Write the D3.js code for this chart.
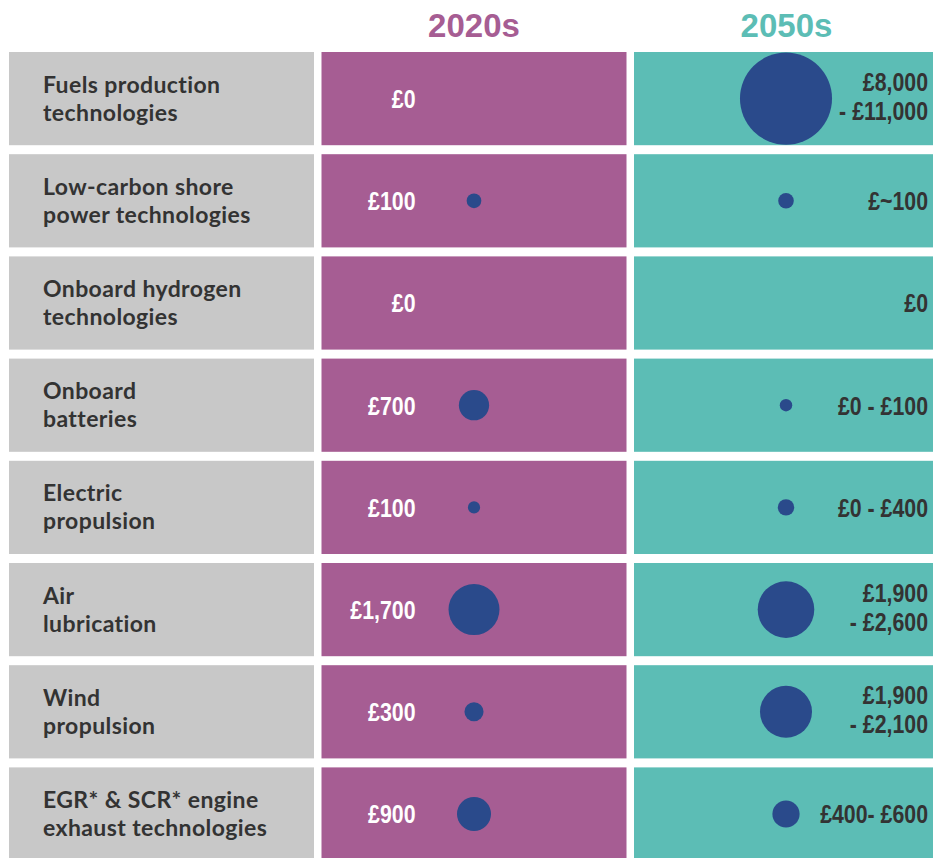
<!DOCTYPE html>
<html>
<head>
<meta charset="utf-8">
<script src="https://cdn.jsdelivr.net/npm/d3@7.9.0/dist/d3.min.js"></script>
<style>
  html, body { margin: 0; padding: 0; background: #fff; }
  svg { display: block; }
</style>
</head>
<body>
<script>
// ** Data **
const technologies = [
    "Fuels production\ntechnologies",
    "Low-carbon shore\npower technologies",
    "Onboard hydrogen\ntechnologies",
    "Onboard\nbatteries",
    "Electric\npropulsion",
    "Air\nlubrication",
    "Wind\npropulsion",
    "EGR* & SCR* engine\nexhaust technologies"
];
const periods = ["2020s", "2050s"];
const cost2020s = ["£0", "£100", "£0", "£700", "£100", "£1,700", "£300", "£900"];
const cost2050s = ["£8,000\n- £11,000", "£~100", "£0", "£0 - £100", "£0 - £400", "£1,900\n- £2,600", "£1,900\n- £2,100", "£400- £600"];
// bubble sizes (£) as read from the circles
const bubble2020s = [0, 160, 0, 680, 110, 1930, 270, 860];
const bubble2050s = [6300, 180, 0, 115, 200, 2380, 2010, 550];

const width = 933, height = 858;
const colors = { label: "#c8c8c8", "2020s": "#a65d93", "2050s": "#5cbdb5" };
const bubbleColor = "#2a4a8b";
const valueFont = "'Liberation Sans', Arial, sans-serif";

const svg = d3.select("body").append("svg")
    .attr("width", width)
    .attr("height", height);

// ** Scales **
const x = d3.scaleBand()
    .domain(["label", ...periods])
    .range([9, 939])
    .paddingInner(0.024);

const y = d3.scaleBand()
    .domain(technologies)
    .range([52, 52 + 8 * 102.2 - 9])
    .paddingInner(0.088);

const r = d3.scaleSqrt().domain([0, 10000]).range([0, 58]);

// ** Column titles **
svg.selectAll("text.title")
    .data(periods)
    .enter()
    .append("text")
    .attr("class", "title")
    .attr("x", d => x(d) + x.bandwidth() / 2)
    .attr("y", 37)
    .attr("text-anchor", "middle")
    .style("font-family", "'Liberation Sans', Arial, sans-serif")
    .style("font-weight", "bold")
    .style("font-size", "33px")
    .style("fill", d => colors[d])
    .text(d => d);

// ** Rows **
const rows = technologies.map((t, i) => ({
    name: t,
    "2020s": { label: cost2020s[i], bubble: bubble2020s[i] },
    "2050s": { label: cost2050s[i], bubble: bubble2050s[i] }
}));

const row = svg.selectAll("g.row")
    .data(rows)
    .enter()
    .append("g")
    .attr("class", "row")
    .attr("transform", d => `translate(0,${y(d.name)})`);

const cy = y.bandwidth() / 2;

// label cell
row.append("rect")
    .attr("x", x("label"))
    .attr("width", x.bandwidth())
    .attr("height", y.bandwidth())
    .attr("fill", colors.label);

row.append("text")
    .attr("x", x("label") + 34)
    .attr("y", cy - 6)
    .style("font-family", "Lato, 'Open Sans', sans-serif")
    .style("font-weight", "bold")
    .style("font-size", "23px")
    .style("letter-spacing", "0.4px")
    .style("fill", "#333")
    .selectAll("tspan")
    .data(d => d.name.split("\n"))
    .enter()
    .append("tspan")
    .attr("x", x("label") + 34)
    .attr("dy", (d, i) => i ? 28 : 0)
    .text(d => d);

// period cells
periods.forEach(p => {
    const x0 = x(p);
    row.append("rect")
        .attr("x", x0)
        .attr("width", x.bandwidth())
        .attr("height", y.bandwidth())
        .attr("fill", colors[p]);

    row.filter(d => d[p].bubble > 0)
        .append("circle")
        .attr("cx", x0 + (p === "2020s" ? 152.5 : 152))
        .attr("cy", cy)
        .attr("r", d => r(d[p].bubble))
        .attr("fill", bubbleColor);

    // condensed look: squeeze the text horizontally
    const tx = p === "2020s" ? x0 + 94 : x0 + 294;
    row.append("text")
        .attr("text-anchor", "end")
        .attr("transform", `translate(${tx},0) scale(0.82,1)`)
        .style("font-family", valueFont)
        .style("font-weight", "bold")
        .style("font-size", "26px")
        .style("fill", p === "2020s" ? "#fff" : "#333")
        .each(function (d) {
            const lines = d[p].label.split("\n");
            const start = lines.length > 1 ? cy - 7.5 : cy + 9.5;
            d3.select(this).selectAll("tspan")
                .data(lines)
                .enter()
                .append("tspan")
                .attr("x", 0)
                .attr("y", (l, i) => start + i * 29)
                .text(l => l);
        });
});
</script>
</body>
</html>
